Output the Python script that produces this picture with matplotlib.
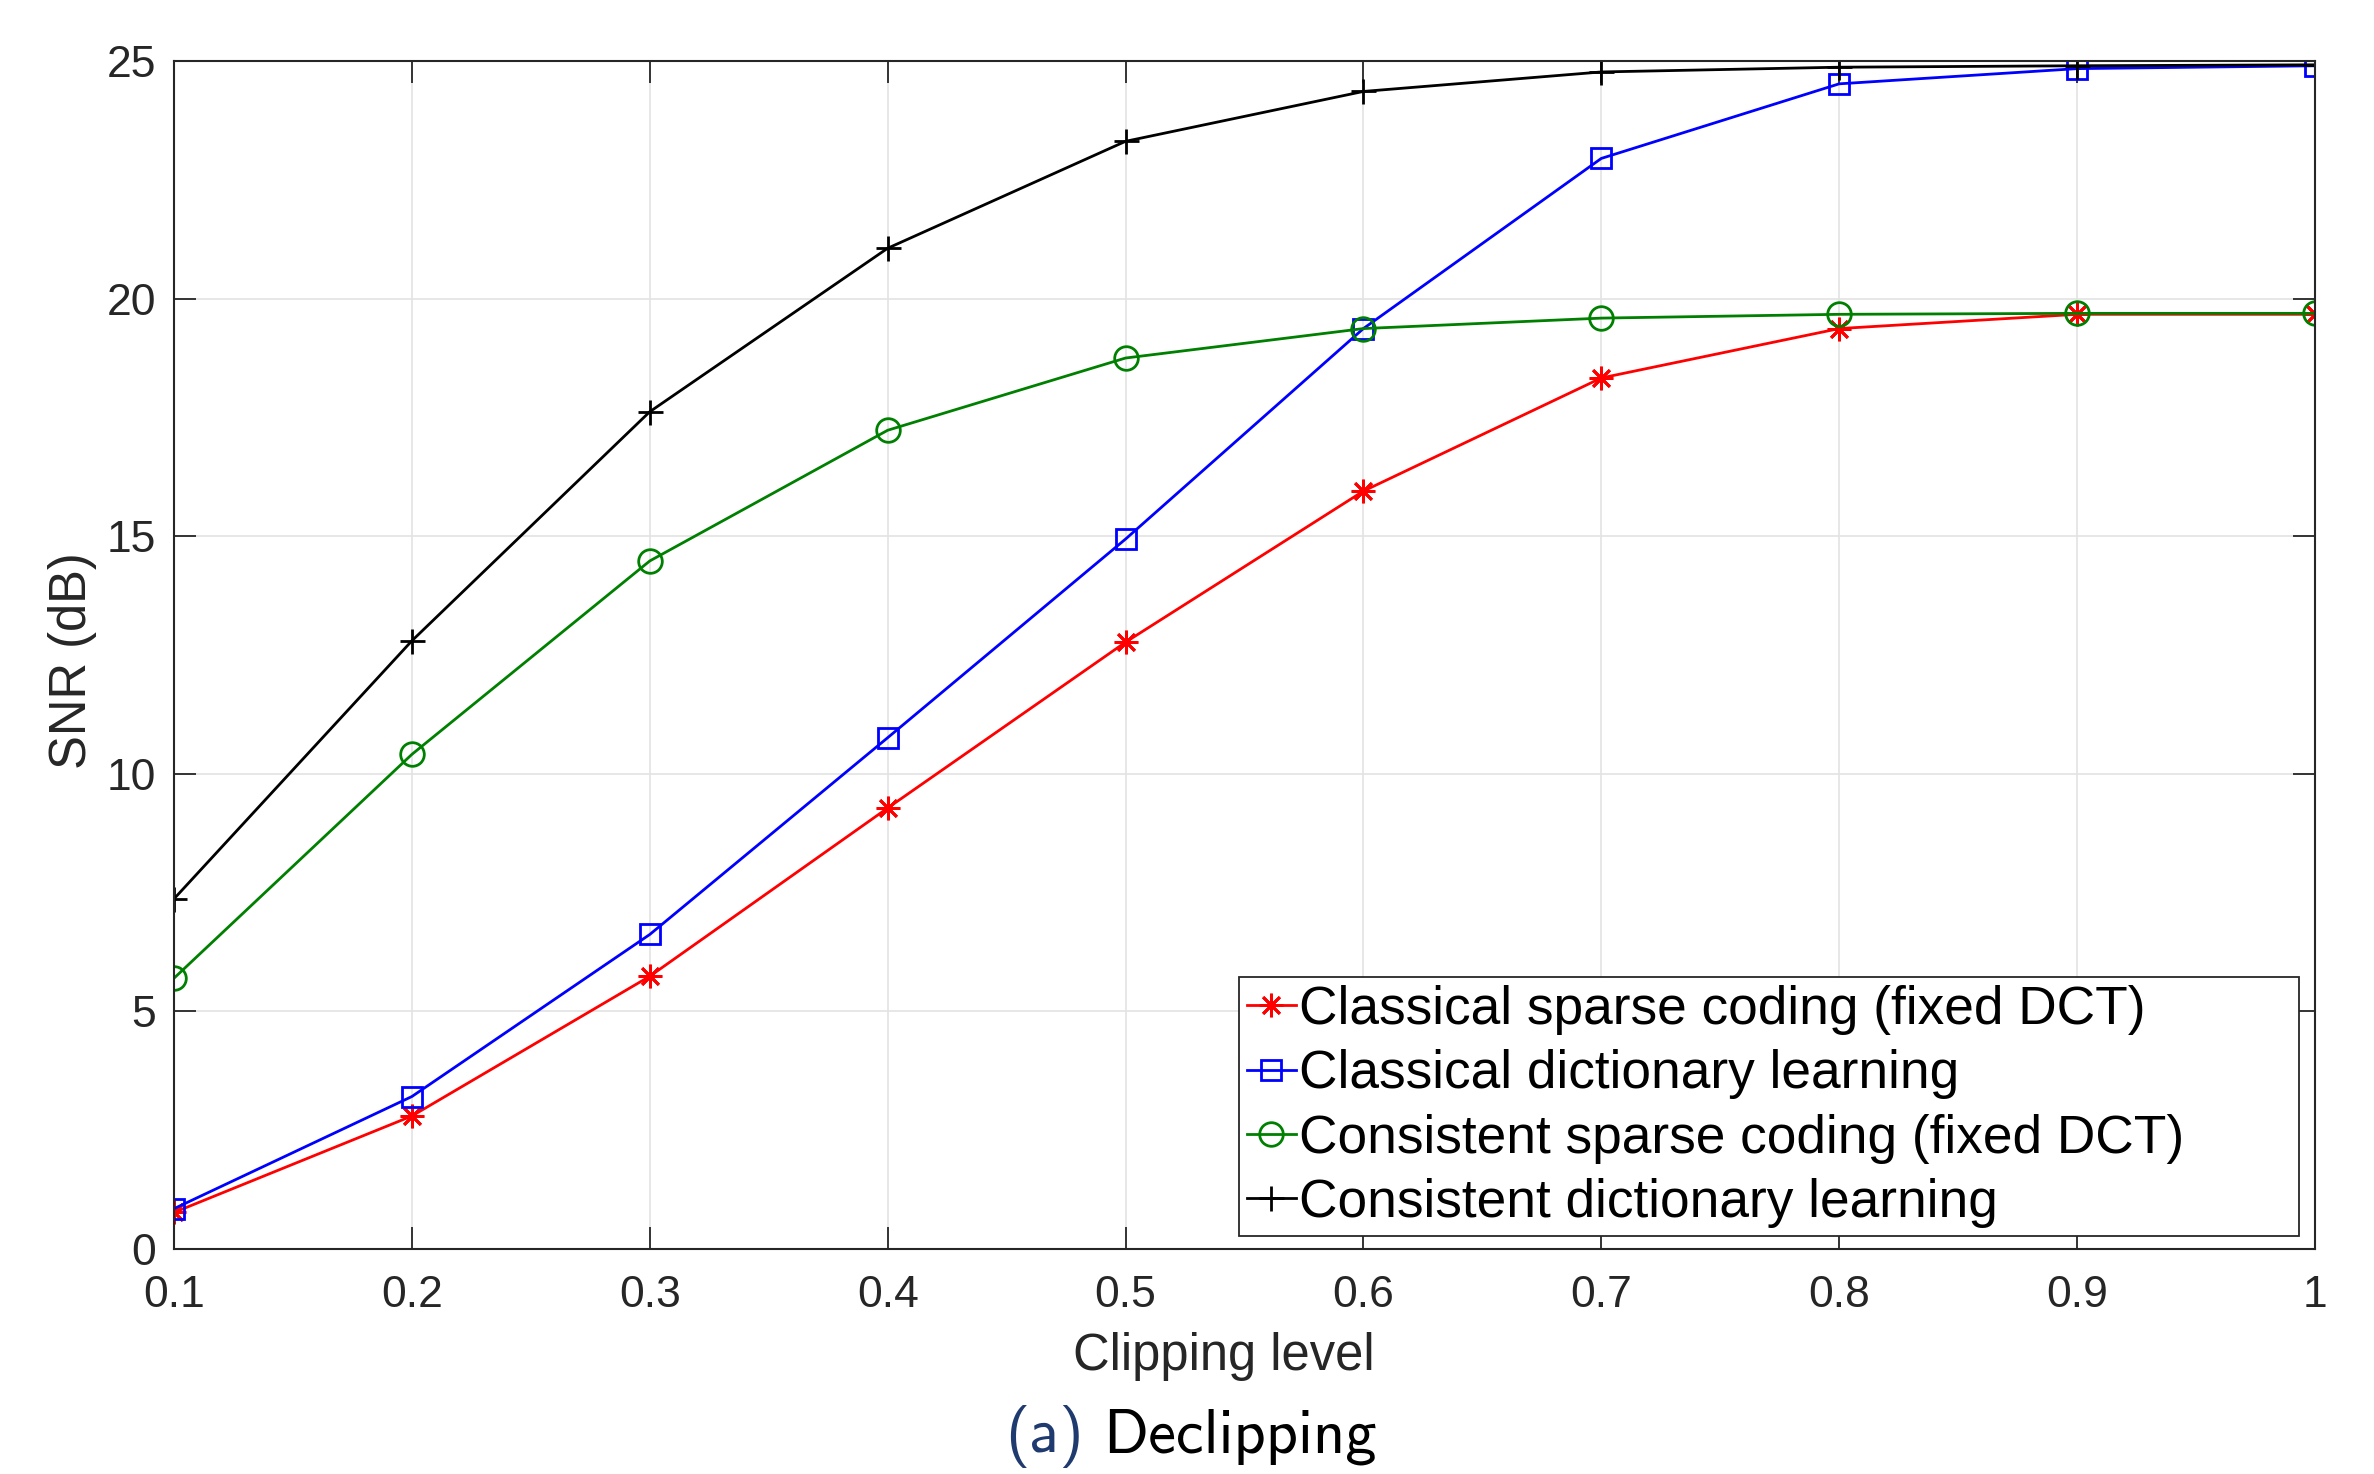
import matplotlib
matplotlib.use("Agg")
import matplotlib.pyplot as plt

clip_levels = [0.1, 0.2, 0.3, 0.4, 0.5, 0.6, 0.7, 0.8, 0.9, 1.0]
snr_classical_sparse = [0.77, 2.80, 5.74, 9.28, 12.77, 15.95, 18.33, 19.37, 19.67, 19.67]
snr_classical_dict = [0.85, 3.21, 6.62, 10.76, 14.94, 19.37, 22.95, 24.52, 24.84, 24.90]
snr_consistent_sparse = [5.70, 10.41, 14.48, 17.23, 18.75, 19.37, 19.59, 19.67, 19.69, 19.69]
snr_consistent_dict = [7.37, 12.80, 17.62, 21.06, 23.31, 24.36, 24.77, 24.87, 24.90, 24.92]
series_labels = ["Classical sparse coding (fixed DCT)", "Classical dictionary learning",
                 "Consistent sparse coding (fixed DCT)", "Consistent dictionary learning"]
x_ticks = [0.1, 0.2, 0.3, 0.4, 0.5, 0.6, 0.7, 0.8, 0.9, 1.0]
x_tick_labels = ["0.1", "0.2", "0.3", "0.4", "0.5", "0.6", "0.7", "0.8", "0.9", "1"]
y_ticks = [0, 5, 10, 15, 20, 25]

plt.rcParams['font.family'] = ['Liberation Sans', 'DejaVu Sans']

fig = plt.figure(figsize=(23.74, 14.74), dpi=100)
ax = fig.add_axes([0.0733, 0.1526, 0.9751 - 0.0733, 0.9586 - 0.1526])

dark = '#262626'
ax.plot(clip_levels, snr_classical_sparse, color='red', lw=2.0, marker=(8, 2, 0),
        ms=17, mew=2.0, label=series_labels[0])
ax.plot(clip_levels, snr_classical_dict, color='blue', lw=2.0, marker='s',
        ms=14, mew=2.0, mfc='none', label=series_labels[1])
ax.plot(clip_levels, snr_consistent_sparse, color='green', lw=2.0, marker='o',
        ms=17, mew=2.0, mfc='none', label=series_labels[2])
ax.plot(clip_levels, snr_consistent_dict, color='black', lw=2.0, marker='+',
        ms=18, mew=2.0, label=series_labels[3])

ax.set_xlim(0.1, 1.0)
ax.set_ylim(0, 25)
ax.set_xticks(x_ticks)
ax.set_xticklabels(x_tick_labels)
ax.set_yticks(y_ticks)
ax.grid(True, color='#e3e3e3', lw=1.2)
ax.set_axisbelow(True)
ax.tick_params(direction='in', length=16, width=1.3, colors=dark, labelsize=32,
               top=True, right=True)
ax.tick_params(axis='x', pad=19)
ax.tick_params(axis='y', pad=13)
for s in ax.spines.values():
    s.set_color(dark)
    s.set_linewidth(1.5)

ax.set_xlabel("Clipping level", fontsize=36.5, color=dark, labelpad=11)
ax.set_ylabel("SNR (dB)", fontsize=36.5, color=dark, labelpad=7)
ax.xaxis.label.set_x(0.4904)
ax.yaxis.label.set_y(0.495)

leg = ax.legend(loc='lower left', bbox_to_anchor=(0.4974, 0.011, 0.4951, 0.2),
                mode='expand', borderaxespad=0,
                fontsize=38.3, handlelength=0.92, handletextpad=0.06, labelspacing=0.27,
                borderpad=0.15, fancybox=False, framealpha=1, edgecolor=dark)
leg.get_frame().set_linewidth(1.3)

fig.text(1005 / 2374, 0.0149, "(a)", fontsize=45, family='cmss10', color='#1f3a6e',
         ha='left', va='baseline')
fig.text(1103 / 2374, 0.0149, "Declipping", fontsize=45, family='cmss10', color='black',
         ha='left', va='baseline')

fig.savefig("out.png", dpi=100)
